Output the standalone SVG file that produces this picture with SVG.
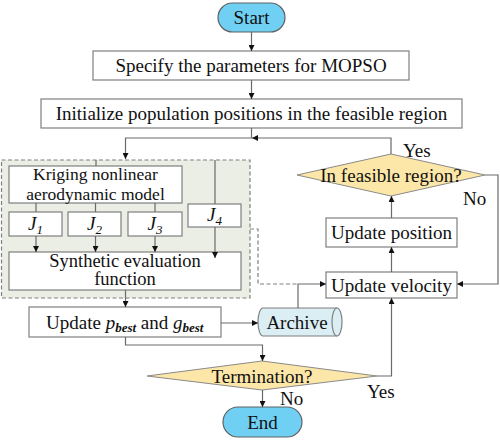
<svg xmlns="http://www.w3.org/2000/svg" width="500" height="442" viewBox="0 0 500 442">
<defs>
<marker id="arr" markerUnits="userSpaceOnUse" markerWidth="7" markerHeight="6" refX="6" refY="3" orient="auto">
<path d="M0,0 L6,3 L0,6 z" fill="#111"/>
</marker>
<style>
text{font-family:"Liberation Serif","Times New Roman",serif;font-size:19px;fill:#111}
.c{text-anchor:middle}
.box{fill:#fff;stroke:#7f7f7f;stroke-width:1.2}
.term{fill:#6fd0f4;stroke:#606060;stroke-width:1.2}
.dec{fill:#fce7a8;stroke:#8a8a8a;stroke-width:1}
.ln{fill:none;stroke:#6a6a6a;stroke-width:1.2}
.ar{marker-end:url(#arr)}
.dash{fill:none;stroke:#808080;stroke-width:1.2;stroke-dasharray:4,2.5}
.i{font-style:italic}
.sub{font-style:italic;font-size:13px}
.two{font-size:18.5px}
.k{font-size:17.5px}
</style>
</defs>
<g id="module">
<rect x="1.5" y="160" width="248.5" height="138" class="dash" style="fill:#ebeee5"/>
</g>
<g id="start"><rect class="term" x="218" y="3" width="67" height="29" rx="14.5"/><text class="c" x="251.5" y="23.5">Start</text></g>
<g id="specify"><rect class="box" x="93" y="51" width="316" height="29"/><text class="c" x="251" y="72">Specify the parameters for MOPSO</text></g>
<g id="init"><rect class="box" x="41" y="99" width="421" height="29"/><text class="c" x="251.5" y="120">Initialize population positions in the feasible region</text></g>
<g id="kriging"><rect class="box" x="9" y="166" width="173" height="37"/><text class="c k" x="95.5" y="179.5">Kriging nonlinear</text><text class="c k" x="95.5" y="199.5">aerodynamic model</text></g>
<g id="j1"><rect class="box" x="9" y="212" width="53" height="24"/><text class="c" x="35.5" y="230"><tspan class="i">J</tspan><tspan class="sub" dy="4">1</tspan></text></g>
<g id="j2"><rect class="box" x="68" y="212" width="53" height="24"/><text class="c" x="94.5" y="230"><tspan class="i">J</tspan><tspan class="sub" dy="4">2</tspan></text></g>
<g id="j3"><rect class="box" x="128" y="212" width="54" height="24"/><text class="c" x="155" y="230"><tspan class="i">J</tspan><tspan class="sub" dy="4">3</tspan></text></g>
<g id="j4"><rect class="box" x="188" y="204" width="53" height="23"/><text class="c" x="214.5" y="221"><tspan class="i">J</tspan><tspan class="sub" dy="4">4</tspan></text></g>
<g id="synthetic"><rect class="box" x="9" y="252" width="232" height="38"/><text class="c two" x="125" y="267">Synthetic evaluation</text><text class="c two" x="125" y="285">function</text></g>
<g id="update-best"><rect class="box" x="29" y="307" width="192" height="30"/><text x="46" y="328.5">Update <tspan class="i">p</tspan><tspan class="sub" font-weight="bold" dy="3">best</tspan><tspan dy="-3"> and </tspan><tspan class="i">g</tspan><tspan class="sub" font-weight="bold" dy="3">best</tspan></text></g>
<g id="archive"><path d="M263,308 H337 A5,14 0 0 1 337,336 H263 A5,14 0 0 1 263,308 Z" fill="#dbeef4" stroke="#7f7f7f" stroke-width="1.2"/><path d="M337,308 A5,14 0 0 0 337,336" fill="none" stroke="#7f7f7f" stroke-width="1.2"/><text class="c" x="297" y="328.5">Archive</text></g>
<g id="feasible"><polygon class="dec" points="297,175 391,154 485,175 391,196"/><text class="c" x="391" y="181.5">In feasible region?</text></g>
<g id="position"><rect class="box" x="326" y="218" width="131" height="29"/><text class="c" x="391.5" y="239">Update position</text></g>
<g id="velocity"><rect class="box" x="326" y="272" width="131" height="26"/><text class="c" x="391.5" y="291.5">Update velocity</text></g>
<g id="termination"><polygon class="dec" points="147,376 262,361 377,376 262,390"/><text class="c" x="262" y="382.5">Termination?</text></g>
<g id="end"><rect class="term" x="223" y="407" width="79" height="30" rx="15"/><text class="c" x="262.5" y="428.5">End</text></g>
<g id="connectors">
<path class="ln ar" d="M251.5,32 V51"/>
<path class="ln ar" d="M251.5,80 V99"/>
<path class="ln ar" d="M391,154 V138 H252"/>
<path class="ln ar" d="M251.5,128 V138 H125.5 V159"/>
<path class="ln" d="M96,160 V166"/>
<path class="ln" d="M215,160 V204"/>
<path class="ln" d="M36,203 V212 M95.5,203 V212 M155,203 V212"/>
<path class="ln ar" d="M36,236 V252"/>
<path class="ln ar" d="M95.5,236 V252"/>
<path class="ln ar" d="M155,236 V252"/>
<path class="ln ar" d="M215,227 V258"/>
<path class="ln ar" d="M125.5,290 V307"/>
<path class="ln ar" d="M221,323 H258"/>
<path class="dash" d="M250,229 H258 V284 H298"/>
<path class="ln ar" d="M298,308 V284 H326"/>
<path class="ln ar" d="M391.5,272 V247"/>
<path class="ln ar" d="M391.5,218 V196"/>
<path class="ln ar" d="M485,175 H498 V284 H457"/>
<path class="ln ar" d="M125.5,337 V345 H262.5 V361"/>
<path class="ln ar" d="M377,376 H391.5 V298"/>
<path class="ln ar" d="M262.5,390 V407"/>
<text x="403" y="156.5">Yes</text>
<text x="463" y="204.5">No</text>
<text x="367" y="397.5">Yes</text>
<text x="280" y="404.5">No</text>
</g>
</svg>
